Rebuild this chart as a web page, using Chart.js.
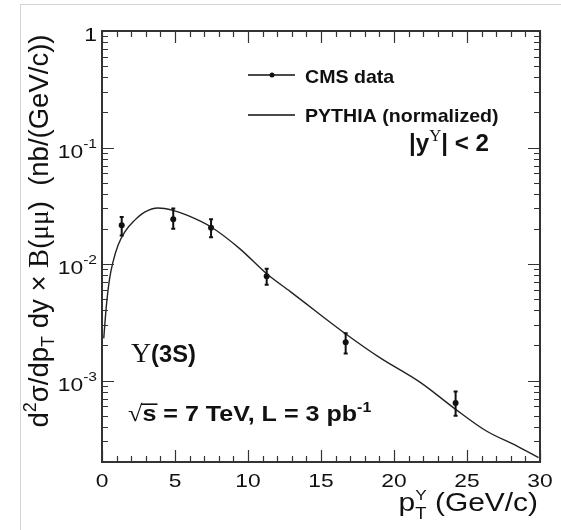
<!DOCTYPE html>
<html>
<head>
<meta charset="utf-8">
<script src="https://cdn.jsdelivr.net/npm/chart.js@4.4.1/dist/chart.umd.min.js"></script>
<style>
  html, body { margin: 0; padding: 0; background: #fff; overflow: hidden; }
  #wrap { position: relative; width: 561px; height: 530px; overflow: hidden; }
  #frame { position: absolute; left: 20px; top: 4px; width: 700px; height: 700px; border: 1px solid #d4d4d4; }
  #c { position: absolute; left: 0; top: 0; }
</style>
</head>
<body>
<div id="wrap">
  <div id="frame"></div>
  <canvas id="c" width="561" height="530"></canvas>
</div>
<script>
// ---- data ----
const curveX = [0.12, 0.3, 0.52, 0.75, 1.1, 1.55, 2.23, 2.92, 3.84, 4.86, 5.9, 7.5, 9.45, 11.3, 12.9, 14.8, 16.7, 19.0, 21.8, 24.2, 26.3, 28.4, 29.9];
const curveY = [0.0023, 0.0044, 0.0075, 0.0104, 0.0145, 0.0188, 0.0237, 0.0279, 0.0303, 0.0289, 0.026, 0.0207, 0.0135, 0.0082, 0.0058, 0.0038, 0.00251, 0.00158, 0.000964, 0.000569, 0.000371, 0.000275, 0.000218];

const dataX  = [1.35, 4.88, 7.47, 11.28, 16.69, 24.22];
const dataY  = [0.0215, 0.0242, 0.0205, 0.00787, 0.00213, 0.000641];
const errHi  = [0.0253, 0.0299, 0.0242, 0.00912, 0.00255, 0.000807];
const errLo  = [0.0176, 0.0201, 0.0170, 0.00664, 0.00171, 0.000499];

const xMajorTicks = [0, 5, 10, 15, 20, 25, 30];
const xTickLabels = ['0', '5', '10', '15', '20', '25', '30'];
const yMajorTicks = [1e-3, 1e-2, 1e-1, 1];
const yTickBase   = ['10', '10', '10', '1'];
const yTickExp    = ['-3', '-2', '-1', ''];

const X_MIN = 0, X_MAX = 30, Y_MIN = 2e-4, Y_MAX = 1;

// ---- helpers ----
const SANS = '"Liberation Sans", Arial, Helvetica, sans-serif';
const SERIF = '"Liberation Serif", "Times New Roman", serif';

function drawRich(ctx, segs, x, y, opts) {
  opts = opts || {};
  const sx = opts.sx || 1;
  ctx.save();
  ctx.translate(x, y);
  if (opts.rot) ctx.rotate(opts.rot);
  ctx.scale(sx, 1);
  ctx.textBaseline = 'alphabetic';
  ctx.textAlign = 'left';
  let total = 0;
  const widths = segs.map(s => {
    ctx.font = (s.w || '') + ' ' + s.s + 'px ' + (s.f || SANS);
    const w = s.noAdvance ? 0 : ctx.measureText(s.t).width;
    total += w;
    return w;
  });
  let cx = 0;
  if (opts.align === 'right') cx = -total;
  else if (opts.align === 'center') cx = -total / 2;
  segs.forEach((s, i) => {
    ctx.font = (s.w || '') + ' ' + s.s + 'px ' + (s.f || SANS);
    ctx.fillStyle = opts.color || '#111';
    ctx.fillText(s.t, cx + (s.dx || 0), s.dy || 0);
    if (s.over) {
      const ow = ctx.measureText(s.over).width;
      ctx.fillRect(cx - 1, -s.s * 0.80, ow + 2, 1.6);
    }
    cx += widths[i];
  });
  ctx.restore();
}

const decor = {
  id: 'decor',
  afterDatasetsDraw(chart) {
    const ctx = chart.ctx;
    const xs = chart.scales.x, ys = chart.scales.y;
    ctx.save();
    ctx.strokeStyle = '#111';
    ctx.lineWidth = 2;
    for (let i = 0; i < dataX.length; i++) {
      const px = xs.getPixelForValue(dataX[i]);
      const pt = ys.getPixelForValue(errHi[i]);
      const pb = ys.getPixelForValue(errLo[i]);
      ctx.beginPath();
      ctx.moveTo(px, pt); ctx.lineTo(px, pb);
      ctx.moveTo(px - 2, pt); ctx.lineTo(px + 2, pt);
      ctx.moveTo(px - 2, pb); ctx.lineTo(px + 2, pb);
      ctx.stroke();
    }
    ctx.restore();
  },
  afterDraw(chart) {
    const ctx = chart.ctx;
    const xs = chart.scales.x, ys = chart.scales.y;
    const a = chart.chartArea;
    ctx.save();
    ctx.strokeStyle = '#333';
    ctx.lineWidth = 2;
    ctx.strokeRect(a.left, a.top, a.right - a.left, a.bottom - a.top);
    ctx.lineWidth = 1.2;
    ctx.beginPath();
    for (let v = X_MIN; v <= X_MAX; v += 1) {
      const px = Math.round(xs.getPixelForValue(v)) + 0.5;
      const major = xMajorTicks.includes(v);
      const L = major ? 12 : 6;
      ctx.moveTo(px, a.bottom); ctx.lineTo(px, a.bottom - L);
      ctx.moveTo(px, a.top); ctx.lineTo(px, a.top + L);
    }
    for (let e = -4; e <= 0; e++) {
      for (let k = 1; k <= 9; k++) {
        const v = k * Math.pow(10, e);
        if (v < Y_MIN * 0.999 || v > Y_MAX * 1.001) continue;
        const py = Math.round(ys.getPixelForValue(v)) + 0.5;
        const L = (k === 1) ? 12 : 6;
        ctx.moveTo(a.left, py); ctx.lineTo(a.left + L, py);
        ctx.moveTo(a.right, py); ctx.lineTo(a.right - L, py);
      }
    }
    ctx.stroke();
    ctx.restore();

    // x tick labels
    xMajorTicks.forEach((v, i) => {
      drawRich(ctx, [{t: xTickLabels[i], s: 19}], xs.getPixelForValue(v), a.bottom + 25, {align: 'center', sx: 1.2});
    });
    // y tick labels
    yMajorTicks.forEach((v, i) => {
      const py = ys.getPixelForValue(v);
      const segs = [{t: yTickBase[i], s: 19}];
      if (yTickExp[i]) segs.push({t: yTickExp[i], s: 13, dy: -10});
      drawRich(ctx, segs, a.left - 5, py + 10, {align: 'right', sx: 1.2});
    });

    // y axis title (rotated)
    drawRich(ctx, [
      {t: 'd', s: 27.5},
      {t: '2', s: 18, dy: -12},
      {t: 'σ/dp', s: 27.5},
      {t: 'T', s: 18, dy: 6},
      {t: ' dy × ', s: 27.5},
      {t: 'B', s: 28.5, f: SERIF},
      {t: '(', s: 27.5},
      {t: 'μμ', s: 27.5, f: SERIF},
      {t: ')  (nb/(GeV/c))', s: 27.5}
    ], 48, 231, {rot: -Math.PI / 2, align: 'center'});

    // x axis title
    drawRich(ctx, [
      {t: 'p', s: 26},
      {t: 'T', s: 16, dy: 8, noAdvance: true},
      {t: 'Υ', s: 15, dy: -11},
      {t: ' (GeV/c)', s: 26}
    ], a.right - 2, 511, {align: 'right', sx: 1.15});

    // legend
    ctx.save();
    ctx.strokeStyle = '#111';
    ctx.lineWidth = 1.5;
    ctx.beginPath();
    ctx.moveTo(248, 75); ctx.lineTo(295, 75);
    ctx.moveTo(248, 115); ctx.lineTo(295, 115);
    ctx.stroke();
    ctx.beginPath(); ctx.arc(272, 75, 2.5, 0, Math.PI * 2); ctx.fillStyle = '#111'; ctx.fill();
    ctx.restore();
    drawRich(ctx, [{t: 'CMS data', s: 19, w: 'bold'}], 305, 83, {sx: 1.03});
    drawRich(ctx, [{t: 'PYTHIA (normalized)', s: 19, w: 'bold'}], 305, 122, {sx: 1.03});

    // rapidity label
    drawRich(ctx, [
      {t: '|y', s: 23, w: 'bold'},
      {t: 'Υ', s: 16, f: SERIF, dy: -10},
      {t: '| < 2', s: 23, w: 'bold'}
    ], 409, 151, {sx: 1.05});

    // state label
    drawRich(ctx, [
      {t: 'Υ', s: 27, f: SERIF},
      {t: '(3S)', s: 23, w: 'bold'}
    ], 131, 362, {sx: 1.03});

    // energy / lumi label
    drawRich(ctx, [
      {t: '√', s: 23, f: SERIF},
      {t: 's', s: 22, w: 'bold', over: 's'},
      {t: ' = 7 TeV, L = 3 pb', s: 22, w: 'bold'},
      {t: '-1', s: 14, w: 'bold', dy: -9}
    ], 128, 421, {sx: 1.14});
  }
};

new Chart(document.getElementById('c'), {
  type: 'scatter',
  data: {
    datasets: [
      {
        label: 'PYTHIA (normalized)',
        data: curveX.map((x, i) => ({x: x, y: curveY[i]})),
        showLine: true,
        pointRadius: 0,
        borderColor: '#222',
        borderWidth: 1.4,
        cubicInterpolationMode: 'monotone',
        fill: false
      },
      {
        label: 'CMS data',
        data: dataX.map((x, i) => ({x: x, y: dataY[i]})),
        showLine: false,
        pointRadius: 3,
        pointBackgroundColor: '#111',
        pointBorderColor: '#111',
        pointBorderWidth: 0
      }
    ]
  },
  options: {
    responsive: false,
    animation: false,
    devicePixelRatio: 1,
    layout: { padding: { left: 102, top: 31, right: 21, bottom: 68 } },
    plugins: { legend: { display: false }, tooltip: { enabled: false } },
    scales: {
      x: { type: 'linear', min: X_MIN, max: X_MAX, display: false },
      y: { type: 'logarithmic', min: Y_MIN, max: Y_MAX, display: false }
    }
  },
  plugins: [decor]
});
</script>
</body>
</html>
